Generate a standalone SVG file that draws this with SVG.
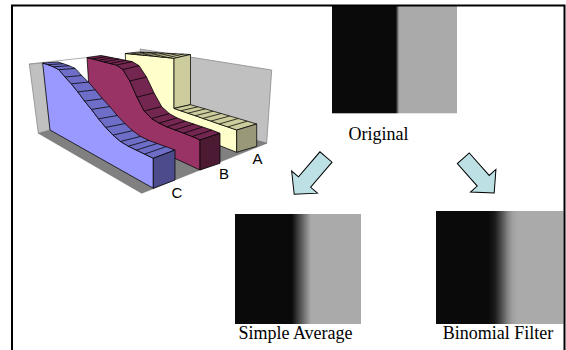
<svg xmlns="http://www.w3.org/2000/svg" width="566" height="350" viewBox="0 0 566 350">
<style>
.ln{stroke:#000;stroke-width:0.75;stroke-linejoin:round;fill:none}
.ed{stroke:#000;stroke-width:0.75;stroke-linejoin:round}
.wall{fill:#c0c0c0;stroke:#808080;stroke-width:0.7}
.floor{fill:#808080;stroke:#666;stroke-width:0.5}
.serif{font-family:"Liberation Serif","Times New Roman",serif;font-size:18px;fill:#000}
.axis{font-family:"Liberation Sans",Arial,sans-serif;font-size:15px;fill:#000}
.arrow{fill:#bde0e4;stroke:#000;stroke-width:1;stroke-linejoin:miter}
</style>
<defs>
<linearGradient id="gOrig" x1="0" y1="0" x2="1" y2="0">
<stop offset="0" stop-color="#0a0a0a"/><stop offset="0.51" stop-color="#0a0a0a"/><stop offset="0.523" stop-color="#555"/><stop offset="0.536" stop-color="#aaa"/><stop offset="1" stop-color="#aaa"/>
</linearGradient>
<linearGradient id="gAvg" x1="0" y1="0" x2="1" y2="0">
<stop offset="0" stop-color="#0a0a0a"/><stop offset="0.45" stop-color="#0a0a0a"/><stop offset="0.603" stop-color="#aaa"/><stop offset="1" stop-color="#aaa"/>
</linearGradient>
<linearGradient id="gBin" x1="0" y1="0" x2="1" y2="0">
<stop offset="0" stop-color="#0a0a0a"/><stop offset="0.41" stop-color="#0a0a0a"/><stop offset="0.46" stop-color="#1a1a1a"/><stop offset="0.5" stop-color="#404040"/><stop offset="0.53" stop-color="#5f5f5f"/><stop offset="0.56" stop-color="#828282"/><stop offset="0.6" stop-color="#a0a0a0"/><stop offset="0.64" stop-color="#aaa"/><stop offset="1" stop-color="#aaa"/>
</linearGradient>
</defs>
<rect width="566" height="350" fill="#fff"/>

<g id="chart3d">
  <polygon class="wall" points="140,49 271.7,70 266.7,143.3 150,112"/>
  <polygon class="floor" points="38.3,133.3 141.7,193.3 266.7,143.3 150,110 50,130"/>
  <polygon class="wall" points="29.3,64 42.7,63 50,130 38.3,133.3"/>
  <line x1="29.3" y1="64" x2="87" y2="57.5" stroke="#999" stroke-width="0.8"/>

  <g id="series-A">
    <polygon class="ed" fill="#ffffcc" points="127,109 125.3,53.5 131,54 136.8,54.6 142.7,55.2 148.7,55.7 154.9,56.3 161,57 167.4,57.6 174,58.3 174,108.4 180.8,110.8 187.9,113.2 195.3,115.7 202.9,118.4 210.9,121.1 219.1,124 227.7,126.9 236.7,130 236.7,152.3"/>
    <polygon class="ed" fill="#cccc9c" points="125.3,53.5 131,54 136.8,54.6 142.7,55.2 148.7,55.7 154.9,56.3 161,57 167.4,57.6 174,58.3 190.5,54.5 183.5,54.1 176.6,53.8 170.1,53.4 163.5,53.1 157,52.8 150.7,52.5 144.4,52.3 138.3,52"/>
    <polygon class="ed" fill="#cccc9c" points="174,58.3 190.5,54.5 190.5,104.7 174,108.4"/>
    <polygon class="ed" fill="#cccc9c" points="174,108.4 180.8,110.8 187.9,113.2 195.3,115.7 202.9,118.4 210.9,121.1 219.1,124 227.7,126.9 236.7,130 256.7,124 247.3,121.2 238.3,118.5 229.6,116 221.2,113.5 213.1,111.2 205.3,108.9 197.8,106.8 190.5,104.7"/>
    <path class="ln" d="M131,54L144.4,52.3M136.8,54.6L150.7,52.5M142.7,55.2L157,52.8M148.7,55.7L163.5,53.1M154.9,56.3L170.1,53.4M161,57L176.6,53.8M167.4,57.6L183.5,54.1M180.8,110.8L197.8,106.8M187.9,113.2L205.3,108.9M195.3,115.7L213.1,111.2M202.9,118.4L221.2,113.5M210.9,121.1L229.6,116M219.1,124L238.3,118.5M227.7,126.9L247.3,121.2"/>
    <polygon class="ed" fill="#99997a" points="236.7,130 256.7,124 256.7,146.3 236.7,152.3"/>
  </g>

  <g id="series-B">
    <polygon class="ed" fill="#993366" points="91,119.5 87,57.5 92.4,58.9 98.1,60.4 103.9,61.9 110,63.5 116.3,65.1 122.9,69.5 129.8,81 137,97.2 144.2,111.1 151.5,118.5 159,123.1 166.8,126.8 175,129.9 183.5,133.1 192.3,136.5 200,140 200,170"/>
    <polygon class="ed" fill="#73264f" points="87,57.5 92.4,58.9 98.1,60.4 103.9,61.9 110,63.5 116.3,65.1 122.9,69.5 129.8,81 137,97.2 144.2,111.1 151.5,118.5 159,123.1 166.8,126.8 175,129.9 183.5,133.1 192.3,136.5 200,140 220,133.3 211.9,130.1 202.7,127 193.9,124 185.3,121.2 177.2,117.9 169.3,113.6 161.6,106.5 154,92.8 146.5,77 139.1,65.7 132.2,61.6 125.5,60.3 119.1,59 112.8,57.8 106.8,56.6 101,55.5"/>
    <path class="ln" d="M92.4,58.9L106.8,56.6M98.1,60.4L112.8,57.8M103.9,61.9L119.1,59M110,63.5L125.5,60.3M116.3,65.1L132.2,61.6M122.9,69.5L139.1,65.7M129.8,81L146.5,77M137,97.2L154,92.8M144.2,111.1L161.6,106.5M151.5,118.5L169.3,113.6M159,123.1L177.2,117.9M166.8,126.8L185.3,121.2M175,129.9L193.9,124M183.5,133.1L202.7,127M192.3,136.5L211.9,130.1"/>
    <polygon class="ed" fill="#4d1a33" points="200,140 220,133.3 220,163.3 200,170"/>
  </g>

  <g id="series-C">
    <polygon class="ed" fill="#9999ff" points="50,130 42.7,63 47.9,64.7 53.3,66.8 58.9,69.7 65,77 71.3,83.8 77.8,91.9 84.6,101.1 91.4,109.4 98.5,118.8 105.7,127.4 113,135.1 120.5,141.5 128.3,146.2 136.3,150.1 144.6,154.1 153.3,158.3 153.3,188.3"/>
    <polygon class="ed" fill="#6e6ec8" points="42.7,63 47.9,64.7 53.3,66.8 58.9,69.7 65,77 71.3,83.8 77.8,91.9 84.6,101.1 91.4,109.4 98.5,118.8 105.7,127.4 113,135.1 120.5,141.5 128.3,146.2 136.3,150.1 144.6,154.1 153.3,158.3 175,150 165.9,146.7 157.2,143.5 148.7,140.4 140.5,136.4 132.6,130.7 124.9,123.6 117.3,115.5 109.8,106.6 102.5,98.7 95.3,89.9 88.4,82.1 81.7,75.5 75.2,68.4 69.1,65.7 63.3,63.7 57.7,62"/>
    <path class="ln" d="M47.9,64.7L63.3,63.7M53.3,66.8L69.1,65.7M58.9,69.7L75.2,68.4M65,77L81.7,75.5M71.3,83.8L88.4,82.1M77.8,91.9L95.3,89.9M84.6,101.1L102.5,98.7M91.4,109.4L109.8,106.6M98.5,118.8L117.3,115.5M105.7,127.4L124.9,123.6M113,135.1L132.6,130.7M120.5,141.5L140.5,136.4M128.3,146.2L148.7,140.4M136.3,150.1L157.2,143.5M144.6,154.1L165.9,146.7"/>
    <polygon class="ed" fill="#4c4c8c" points="153.3,158.3 175,150 175,180 153.3,188.3"/>
  </g>

  <text class="axis" x="252.5" y="163.8">A</text>
  <text class="axis" x="219" y="178.8">B</text>
  <text class="axis" x="171.5" y="198.3">C</text>
</g>

<g id="node-original">
  <rect x="332" y="5" width="125" height="108.3" fill="url(#gOrig)"/>
  <text class="serif" x="378.5" y="140" text-anchor="middle">Original</text>
</g>

<g id="node-simple-average">
  <rect x="235" y="214" width="126" height="110" fill="url(#gAvg)"/>
  <text class="serif" x="295.5" y="339" text-anchor="middle">Simple Average</text>
</g>

<g id="node-binomial">
  <rect x="436" y="211" width="127.5" height="113" fill="url(#gBin)"/>
  <text class="serif" x="498" y="339" text-anchor="middle">Binomial Filter</text>
</g>

<g id="connectors">
  <path class="arrow" transform="translate(326,157) rotate(130.5)" d="M0,-8H33V-17L49,0L33,17V8H0Z"/>
  <path class="arrow" transform="translate(463.3,158.3) rotate(48.4)" d="M0,-8H30V-17L46.5,0L30,17V8H0Z"/>
</g>

<path id="frame" d="M12,351V5.5H564.5V351" fill="none" stroke="#000" stroke-width="2"/>
</svg>
